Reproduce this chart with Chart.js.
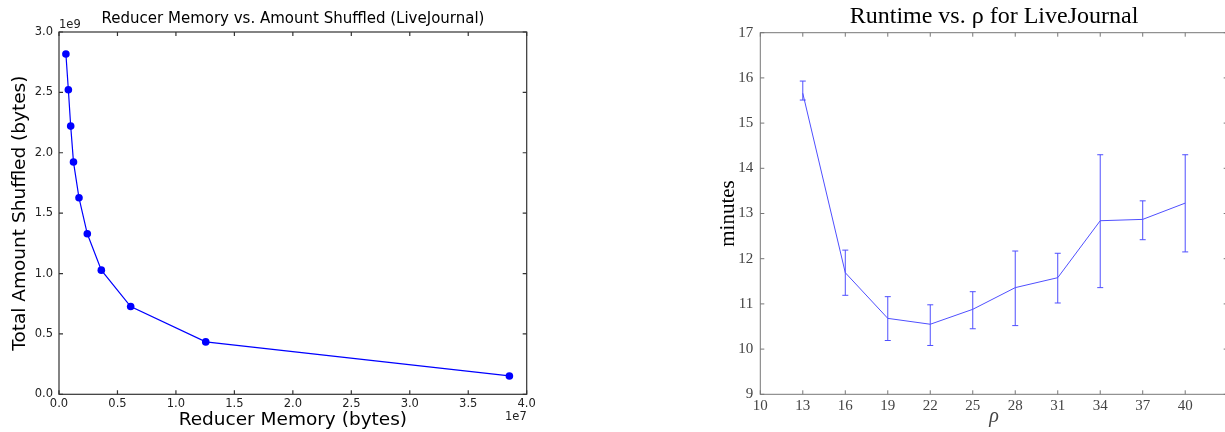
<!DOCTYPE html>
<html><head><meta charset="utf-8">
<script src="https://cdn.jsdelivr.net/npm/chart.js@4.4.1/dist/chart.umd.min.js"></script>
<style>
html,body{margin:0;padding:0;width:1225px;height:432px;overflow:hidden;background:#fff;position:relative;}
#c1{position:absolute;left:0;top:0;}
#c2{position:absolute;left:700px;top:0;}
</style></head><body>
<canvas id="c1" width="586" height="432"></canvas>
<canvas id="c2" width="588" height="432"></canvas>
<script>
// ---- Left chart data (bytes) ----
const reducerMemory = [5.9e5, 8.0e5, 1.0e6, 1.24e6, 1.71e6, 2.42e6, 3.62e6, 6.13e6, 1.255e7, 3.852e7];
const amountShuffled = [2.818e9, 2.522e9, 2.221e9, 1.923e9, 1.627e9, 1.329e9, 1.028e9, 0.727e9, 0.434e9, 0.152e9];
const memTicks = [0.0, 0.5, 1.0, 1.5, 2.0, 2.5, 3.0, 3.5, 4.0];      // x 1e7
const shuffledTicks = [0.0, 0.5, 1.0, 1.5, 2.0, 2.5, 3.0];           // x 1e9

// ---- Right chart data ----
const rho = [13, 16, 19, 22, 25, 28, 31, 34, 37, 40];
const runtimeMean = [15.66, 11.69, 10.68, 10.55, 10.88, 11.36, 11.58, 12.84, 12.87, 13.23];
const runtimeLow  = [15.51, 11.19, 10.19, 10.08, 10.45, 10.52, 11.02, 11.36, 12.42, 12.15];
const runtimeHigh = [15.93, 12.19, 11.16, 10.98, 11.27, 12.17, 12.12, 14.30, 13.28, 14.30];
const rhoTicks = [10, 13, 16, 19, 22, 25, 28, 31, 34, 37, 40];
const minuteTicks = [9, 10, 11, 12, 13, 14, 15, 16, 17];

const frame = {
  id: 'frame',
  afterDatasetsDraw(chart, args, o) {
    const {ctx, chartArea: a, scales: {x, y}} = chart;
    ctx.save();
    if (o.errLow) {
      ctx.strokeStyle = o.errColor; ctx.lineWidth = 1;
      ctx.beginPath();
      o.errX.forEach((xv, i) => {
        const px = x.getPixelForValue(xv);
        const y1 = y.getPixelForValue(o.errLow[i]);
        const y2 = y.getPixelForValue(o.errHigh[i]);
        ctx.moveTo(px, y1); ctx.lineTo(px, y2);
        ctx.moveTo(px - 3, y1); ctx.lineTo(px + 3, y1);
        ctx.moveTo(px - 3, y2); ctx.lineTo(px + 3, y2);
      });
      ctx.stroke();
    }
    ctx.strokeStyle = o.color; ctx.lineWidth = o.width;
    const L = o.len;
    ctx.beginPath();
    x.ticks.forEach(t => {
      const px = x.getPixelForValue(t.value);
      ctx.moveTo(px, a.bottom); ctx.lineTo(px, a.bottom - L);
      ctx.moveTo(px, a.top); ctx.lineTo(px, a.top + L);
    });
    y.ticks.forEach(t => {
      const py = y.getPixelForValue(t.value);
      ctx.moveTo(a.left, py); ctx.lineTo(a.left + L, py);
      ctx.moveTo(a.right, py); ctx.lineTo(a.right - L, py);
    });
    ctx.stroke();
    ctx.strokeRect(a.left, a.top, a.right - a.left, a.bottom - a.top);
    if (o.offsets) {
      ctx.fillStyle = o.offsetColor;
      ctx.font = o.offsetFont;
      ctx.textBaseline = 'alphabetic';
      ctx.textAlign = 'left';
      ctx.fillText(o.offsets[0], a.left, a.top - 3.7);
      ctx.textAlign = 'right';
      ctx.fillText(o.offsets[1], a.right, a.bottom + 25.7);
    }
    ctx.restore();
  }
};

const sans = 'DejaVu Sans';
const serif = 'Liberation Serif';

// empty right-side spacer axis so that titles centre over the plot area
const spacer = w => ({type: 'linear', position: 'right', display: true, min: 0, max: 1,
  ticks: {display: false}, grid: {display: false, drawTicks: false}, border: {display: false},
  afterFit: s => { s.width = w; }});

new Chart(document.getElementById('c1'), {
  type: 'scatter',
  data: { datasets: [{
    data: reducerMemory.map((m, i) => ({x: m, y: amountShuffled[i]})),
    showLine: true, borderColor: '#0000ff', backgroundColor: '#0000ff',
    borderWidth: 1.2, pointRadius: 3.8, pointBorderWidth: 0, pointHoverRadius: 3.8
  }]},
  options: {
    responsive: false, animation: false, events: [],
    layout: {padding: 0},
    plugins: {
      legend: {display: false}, tooltip: {enabled: false},
      title: {display: true, text: 'Reducer Memory vs. Amount Shuffled (LiveJournal)', color: '#000',
        font: {family: sans, size: 15, weight: 'normal'}, padding: {top: 10, bottom: 4}},
      frame: {color: '#333', width: 1.2, len: 4, offsets: ['1e9', '1e7'], offsetColor: '#222', offsetFont: '11.5px "DejaVu Sans"'}
    },
    scales: {
      x: {type: 'linear', min: 0, max: 4e7,
        afterBuildTicks: s => { s.ticks = memTicks.map(v => ({value: v * 1e7})); },
        ticks: {callback: v => (v / 1e7).toFixed(1), color: '#222', font: {family: sans, size: 11.5}, padding: 3, maxRotation: 0, autoSkip: false},
        grid: {display: false, drawTicks: false}, border: {display: false},
        title: {display: true, text: 'Reducer Memory (bytes)', color: '#000', font: {family: sans, size: 18.5}, padding: {top: 0, bottom: 1.2}},
        afterFit: s => { s.height = 37.7; }
      },
      y: {type: 'linear', min: 0, max: 3e9,
        afterBuildTicks: s => { s.ticks = shuffledTicks.map(v => ({value: v * 1e9})); },
        ticks: {callback: v => (v / 1e9).toFixed(1), color: '#222', font: {family: sans, size: 11.5}, padding: 6, autoSkip: false},
        grid: {display: false, drawTicks: false}, border: {display: false},
        title: {display: true, text: 'Total Amount Shuffled (bytes)', color: '#000', font: {family: sans, size: 18.5}, padding: {top: 8.9, bottom: 0}},
        afterFit: s => { s.width = 59; }
      },
      yr: spacer(59.3)
    }
  },
  plugins: [frame]
});

new Chart(document.getElementById('c2'), {
  type: 'scatter',
  data: { datasets: [{
    data: rho.map((r, i) => ({x: r, y: runtimeMean[i]})),
    showLine: true, borderColor: '#4f4fff', backgroundColor: '#4f4fff',
    borderWidth: 1, pointRadius: 0, pointHoverRadius: 0
  }]},
  options: {
    responsive: false, animation: false, events: [],
    layout: {padding: 0},
    plugins: {
      legend: {display: false}, tooltip: {enabled: false},
      title: {display: true, text: 'Runtime vs. ρ for LiveJournal', color: '#000',
        font: {family: serif, size: 24, weight: 'normal'}, padding: {top: 2.4, bottom: 1.5}},
      frame: {color: '#777', width: 1, len: 4, errX: rho, errLow: runtimeLow, errHigh: runtimeHigh, errColor: '#4f4fff'}
    },
    scales: {
      x: {type: 'linear', min: 10, max: 43,
        afterBuildTicks: s => { s.ticks = rhoTicks.map(v => ({value: v})); },
        ticks: {color: '#444', font: {family: serif, size: 15}, padding: 3, maxRotation: 0, autoSkip: false},
        grid: {display: false, drawTicks: false}, border: {display: false},
        title: {display: true, text: 'ρ', color: '#444', font: {family: serif, size: 20, style: 'italic'}, padding: {top: 0, bottom: 3}},
        afterFit: s => { s.height = 37.7; }
      },
      y: {type: 'linear', min: 9, max: 17,
        afterBuildTicks: s => { s.ticks = minuteTicks.map(v => ({value: v})); },
        ticks: {color: '#444', font: {family: serif, size: 15}, padding: 7, autoSkip: false},
        grid: {display: false, drawTicks: false}, border: {display: false},
        title: {display: true, text: 'minutes', color: '#000', font: {family: serif, size: 21}, padding: {top: 15.4, bottom: 0}},
        afterFit: s => { s.width = 60.3; }
      },
      yr: spacer(60.3)
    }
  },
  plugins: [frame]
});
</script>
</body></html>
